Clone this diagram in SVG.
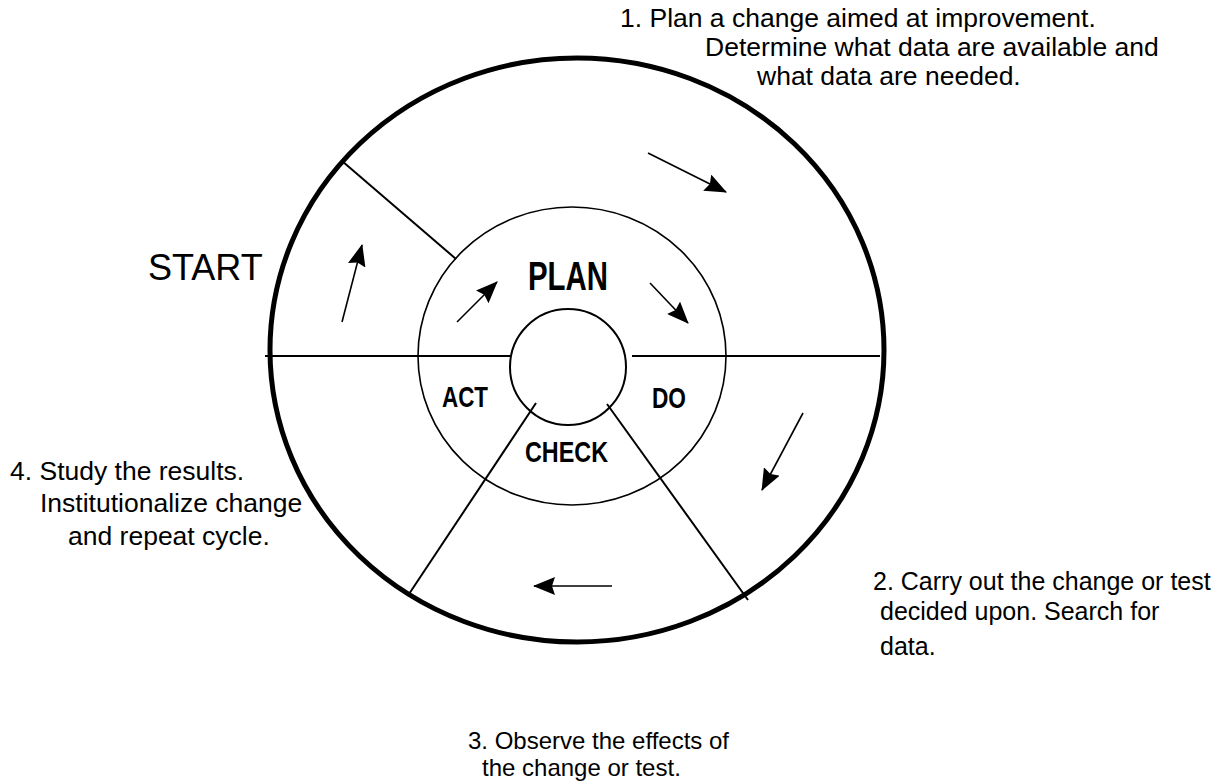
<svg xmlns="http://www.w3.org/2000/svg" width="1217" height="782" viewBox="0 0 1217 782">
<style>
.txt{font-family:"Liberation Sans",Arial,sans-serif;fill:#000}
.lbl{font-family:"Liberation Sans Narrow","Liberation Sans",Arial,sans-serif;font-weight:bold;fill:#000}
.div{stroke:#000;stroke-width:2;fill:none}
.arr{stroke:#000;stroke-width:1.6;fill:none;marker-end:url(#ah)}
</style>
<defs>
<marker id="ah" markerUnits="userSpaceOnUse" markerWidth="22" markerHeight="18" viewBox="0 0 22 18" refX="21" refY="9" orient="auto">
<path d="M0,0 L22,9 L0,18 L3,9 z" fill="#000"/>
</marker>
</defs>
<rect width="1217" height="782" fill="#fff"/>
<g id="wheel">
<ellipse cx="577" cy="350" rx="307" ry="292" fill="none" stroke="#000" stroke-width="5"/>
<ellipse cx="572" cy="356" rx="154" ry="149" fill="none" stroke="#000" stroke-width="1.6"/>
<circle cx="568" cy="367" r="58" fill="none" stroke="#000" stroke-width="2"/>
</g>
<g id="connectors">
<line class="div" x1="265" y1="356" x2="511" y2="356"/>
<line class="div" x1="632" y1="356" x2="880" y2="356"/>
<line class="div" x1="342" y1="161" x2="456" y2="259"/>
<line class="div" x1="536" y1="403" x2="409" y2="594"/>
<line class="div" x1="607" y1="404" x2="748" y2="600"/>
<line class="arr" x1="648" y1="153" x2="726" y2="192"/>
<line class="arr" x1="457" y1="322" x2="497" y2="282"/>
<line class="arr" x1="650" y1="283" x2="688" y2="323"/>
<line class="arr" x1="342" y1="322" x2="362" y2="245"/>
<line class="arr" x1="803" y1="413" x2="762" y2="490"/>
<line class="arr" x1="612" y1="586" x2="534" y2="586"/>
</g>
<g id="plan"><text class="lbl" x="528" y="290" font-size="40" textLength="80" lengthAdjust="spacingAndGlyphs">PLAN</text></g>
<g id="act"><text class="lbl" x="442" y="407" font-size="30" textLength="46" lengthAdjust="spacingAndGlyphs">ACT</text></g>
<g id="do"><text class="lbl" x="652" y="408" font-size="30" textLength="34" lengthAdjust="spacingAndGlyphs">DO</text></g>
<g id="check"><text class="lbl" x="525" y="462" font-size="30" textLength="83" lengthAdjust="spacingAndGlyphs">CHECK</text></g>
<g id="start"><text class="txt" x="148" y="280" font-size="36">START</text></g>
<g id="step1" class="txt" font-size="26.5">
<text class="txt" x="620" y="27">1. Plan a change aimed at improvement.</text>
<text class="txt" x="705" y="56">Determine what data are available and</text>
<text class="txt" x="757" y="85">what data are needed.</text>
</g>
<g id="step2" class="txt" font-size="25">
<text class="txt" x="873" y="590">2. Carry out the change or test</text>
<text class="txt" x="880" y="620">decided upon. Search for</text>
<text class="txt" x="880" y="655">data.</text>
</g>
<g id="step3" class="txt" font-size="24">
<text class="txt" x="468" y="749">3. Observe the effects of</text>
<text class="txt" x="482" y="776">the change or test.</text>
</g>
<g id="step4" class="txt" font-size="26.5">
<text class="txt" x="10" y="480">4. Study the results.</text>
<text class="txt" x="40" y="512">Institutionalize change</text>
<text class="txt" x="68" y="545">and repeat cycle.</text>
</g>
</svg>
